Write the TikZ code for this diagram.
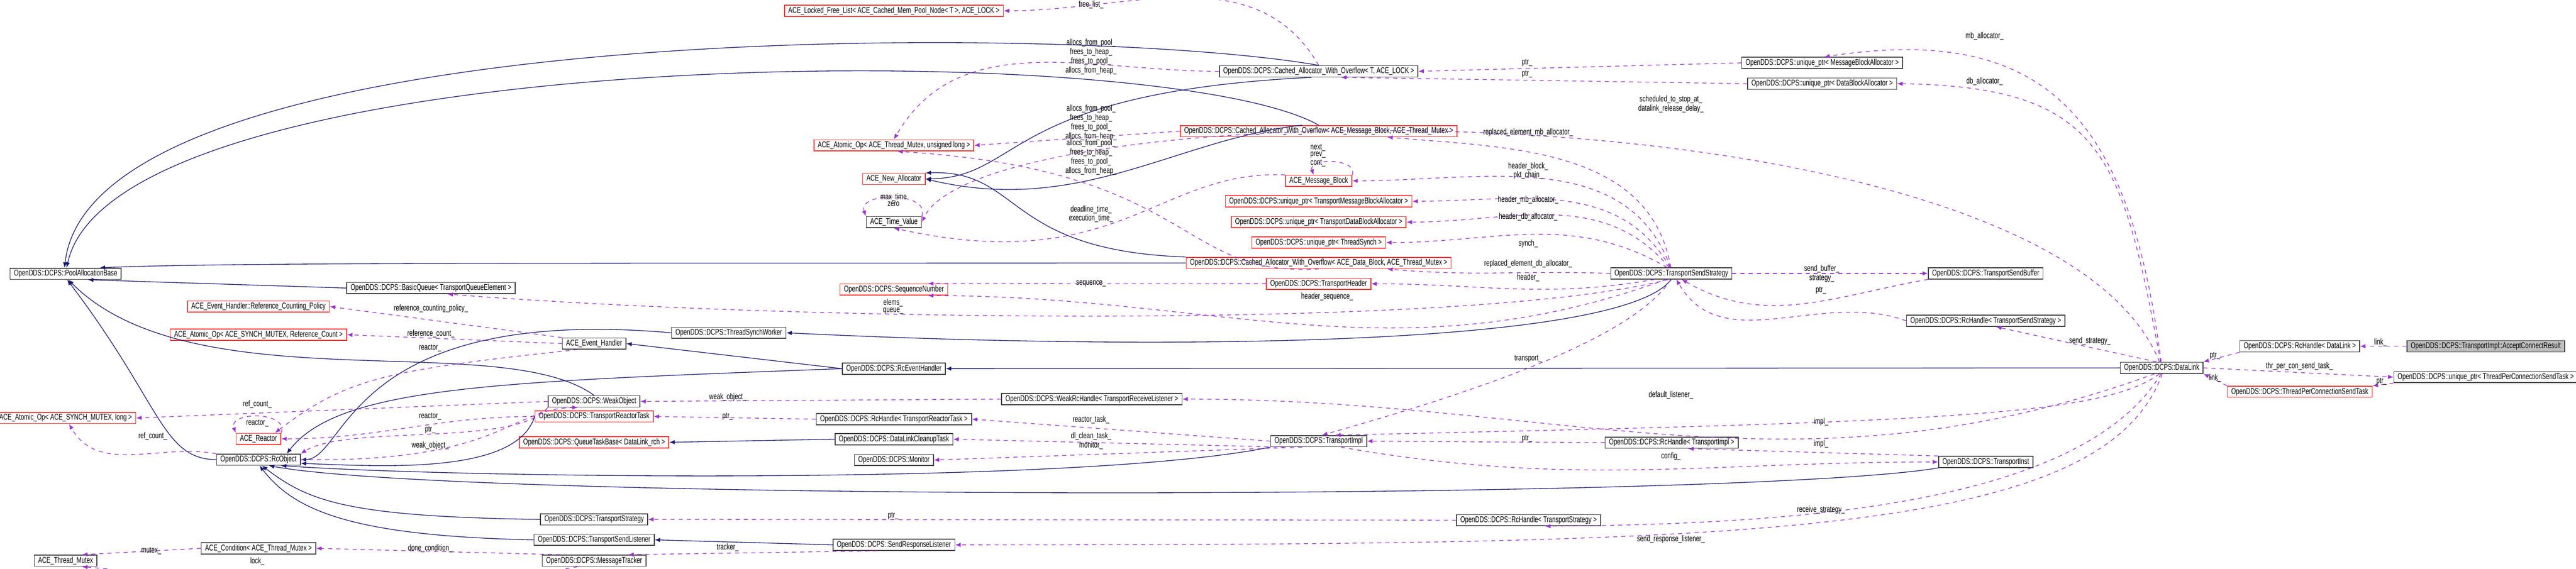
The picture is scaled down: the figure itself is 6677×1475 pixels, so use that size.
\documentclass[tikz,border=0pt]{standalone}
\usepackage{fontspec}
\setmainfont{Liberation Sans}[FakeStretch=0.72]
\usepackage{xcolor}
\usepackage{tikz}
\usetikzlibrary{
    arrows.meta,
    positioning
}
\definecolor{inhblue}{HTML}{191970}
\definecolor{usepurple}{HTML}{9A32CD}
\definecolor{boxred}{HTML}{FF3030}
\tikzset{
    cls/.style={
        rectangle, draw=black!75, line width=0.6pt, fill=white,
        minimum height=0.29cm, inner xsep=0.1cm, inner ysep=0pt,
        font=\fontsize{6.2}{7}\selectfont
    },
    blk/.style={cls},
    rednode/.style={cls, draw=boxred},
    graynode/.style={cls, fill=black!25},
    lbl/.style={font=\fontsize{6.2}{5}\selectfont, align=center, inner sep=0pt}
}

\begin{document}
\begin{tikzpicture}[
    x=0.01cm, y=-0.01cm,
    inh/.style={-{Latex[length=4pt,width=3.2pt]}, draw=inhblue, line width=0.5pt},
    use/.style={-{Latex[length=4pt,width=3.2pt]}, draw=usepurple, dashed, line width=0.5pt}
]
    \useasboundingbox (0,0) rectangle (6677,1475);

    % --- LEFT COLUMN ---
    \node[blk] (pab) at (170,710) {OpenDDS::DCPS::PoolAllocationBase};
    \node[rednode] (aol) at (170,1084) {ACE\_Atomic\_Op< ACE\_SYNCH\_MUTEX, long >};
    \node[blk] (mutex) at (170,1454) {ACE\_Thread\_Mutex};

    \node[blk] (bq) at (1117,747) {OpenDDS::DCPS::BasicQueue< TransportQueueElement >};
    \node[rednode] (rcp) at (670,795) {ACE\_Event\_Handler::Reference\_Counting\_Policy};
    \node[rednode] (aorc) at (670,868) {ACE\_Atomic\_Op< ACE\_SYNCH\_MUTEX, Reference\_Count >};
    \node[rednode] (reactor) at (670,1138) {ACE\_Reactor};
    \node[blk] (rco) at (670,1192) {OpenDDS::DCPS::RcObject};
    \node[blk] (cond) at (670,1422) {ACE\_Condition< ACE\_Thread\_Mutex >};

    \node[blk] (aeh) at (1540,891) {ACE\_Event\_Handler};
    \node[blk] (wo) at (1540,1041) {OpenDDS::DCPS::WeakObject};
    \node[rednode] (trt) at (1540,1080) {OpenDDS::DCPS::TransportReactorTask};
    \node[rednode] (qtb) at (1540,1147) {OpenDDS::DCPS::QueueTaskBase< DataLink\_rch >};
    \node[blk] (ts) at (1540,1347) {OpenDDS::DCPS::TransportStrategy};
    \node[blk] (tsl) at (1540,1400) {OpenDDS::DCPS::TransportSendListener};
    \node[blk] (mt) at (1540,1454) {OpenDDS::DCPS::MessageTracker};
    \node[blk] (tsw) at (1889,863) {OpenDDS::DCPS::ThreadSynchWorker};

    % --- MIDDLE COLUMN ---
    \node[rednode] (lfl) at (2317,28) {ACE\_Locked\_Free\_List< ACE\_Cached\_Mem\_Pool\_Node< T >, ACE\_LOCK >};
    \node[rednode] (aoul) at (2317,377) {ACE\_Atomic\_Op< ACE\_Thread\_Mutex, unsigned long >};
    \node[rednode] (nalloc) at (2317,464) {ACE\_New\_Allocator};
    \node[blk] (tv) at (2317,576) {ACE\_Time\_Value};
    \node[rednode] (sn) at (2317,751) {OpenDDS::DCPS::SequenceNumber};
    \node[blk] (reh) at (2317,956) {OpenDDS::DCPS::RcEventHandler};
    \node[blk] (rhtrt) at (2317,1087) {OpenDDS::DCPS::RcHandle< TransportReactorTask >};
    \node[blk] (dlct) at (2317,1139) {OpenDDS::DCPS::DataLinkCleanupTask};
    \node[blk] (mon) at (2317,1193) {OpenDDS::DCPS::Monitor};
    \node[blk] (srl) at (2317,1413) {OpenDDS::DCPS::SendResponseListener};
    \node[blk] (wrh) at (2830,1035) {OpenDDS::DCPS::WeakRcHandle< TransportReceiveListener >};

    \node[blk] (caT) at (3418,185) {OpenDDS::DCPS::Cached\_Allocator\_With\_Overflow< T, ACE\_LOCK >};
    \node[rednode] (caMB) at (3418,340) {OpenDDS::DCPS::Cached\_Allocator\_With\_Overflow< ACE\_Message\_Block, ACE\_Thread\_Mutex >};
    \node[rednode] (amb) at (3418,469) {ACE\_Message\_Block};
    \node[rednode] (upTMBA) at (3418,522) {OpenDDS::DCPS::unique\_ptr< TransportMessageBlockAllocator >};
    \node[rednode] (upTDBA) at (3418,576) {OpenDDS::DCPS::unique\_ptr< TransportDataBlockAllocator >};
    \node[rednode] (upTS) at (3418,629) {OpenDDS::DCPS::unique\_ptr< ThreadSynch >};
    \node[rednode] (caDB) at (3418,682) {OpenDDS::DCPS::Cached\_Allocator\_With\_Overflow< ACE\_Data\_Block, ACE\_Thread\_Mutex >};
    \node[rednode] (th) at (3418,736) {OpenDDS::DCPS::TransportHeader};
    \node[blk] (ti) at (3418,1144) {OpenDDS::DCPS::TransportImpl};
    \node[blk] (rhts) at (3962,1349) {OpenDDS::DCPS::RcHandle< TransportStrategy >};

    % --- RIGHT COLUMN ---
    \node[blk] (upMBA) at (4723,163) {OpenDDS::DCPS::unique\_ptr< MessageBlockAllocator >};
    \node[blk] (upDBA) at (4723,217) {OpenDDS::DCPS::unique\_ptr< DataBlockAllocator >};
    \node[blk] (tss) at (4332,709) {OpenDDS::DCPS::TransportSendStrategy};
    \node[blk] (rhti) at (4333,1148) {OpenDDS::DCPS::RcHandle< TransportImpl >};
    \node[blk] (tsb) at (5147,709) {OpenDDS::DCPS::TransportSendBuffer};
    \node[blk] (rhtss) at (5147,832) {OpenDDS::DCPS::RcHandle< TransportSendStrategy >};
    \node[blk] (tinst) at (5147,1198) {OpenDDS::DCPS::TransportInst};
    \node[blk] (dl) at (5603,954) {OpenDDS::DCPS::DataLink};
    \node[blk] (rhdl) at (5961,898) {OpenDDS::DCPS::RcHandle< DataLink >};
    \node[rednode] (tpc) at (5961,1016) {OpenDDS::DCPS::ThreadPerConnectionSendTask};
    \node[graynode] (acr) at (6443,898) {OpenDDS::DCPS::TransportImpl::AcceptConnectResult};
    \node[blk] (uptpc) at (6443,978) {OpenDDS::DCPS::unique\_ptr< ThreadPerConnectionSendTask >};

    % --- INHERITANCE ---
    \draw[inh] (caT.north) .. controls (2800,60) and (240,40) .. (pab.100);
    \draw[inh] (caMB.north) .. controls (3000,90) and (300,110) .. (pab.80);
    \draw[inh] (caDB.west) .. controls (1500,683) and (600,680) .. (pab.10);
    \draw[inh] (bq.west) -- (pab.-15);
    \draw[inh] (rco.west) .. controls (420,1190) and (420,1050) .. (pab.-75);
    \draw[inh] (wo.north) .. controls (1300,850) and (500,1050) .. (pab.-65);
    \draw[inh] (reh.west) -- (aeh.east);
    \draw[inh] (reh.west) .. controls (1300,990) and (880,1000) .. (rco.12);
    \draw[inh] (tsw.west) .. controls (900,790) and (900,1190) .. (rco.east);
    \draw[inh] (trt.west) .. controls (1340,1230) and (1000,1210) .. (rco.-5);
    \draw[inh] (ti.south west) .. controls (2800,1260) and (1200,1240) .. (rco.-15);
    \draw[inh] (tinst.south west) .. controls (4500,1300) and (1200,1300) .. (rco.-30);
    \draw[inh] (ts.west) .. controls (900,1340) and (800,1300) .. (rco.-60);
    \draw[inh] (tsl.west) .. controls (900,1390) and (760,1320) .. (rco.-80);
    \draw[inh] (dlct.west) -- (qtb.east);
    \draw[inh] (srl.west) -- (tsl.east);
    \draw[inh] (dl.west) -- (reh.east);
    \draw[inh] (tss.south) .. controls (4200,900) and (3000,910) .. (tsw.east);
    \draw[inh] (caT.220) .. controls (2600,240) and (2650,460) .. (nalloc.east);
    \draw[inh] (caMB.160) .. controls (3050,360) and (2800,560) .. (nalloc.east);
    \draw[inh] (caDB.north west) .. controls (2600,650) and (2650,440) .. (nalloc.north east);

    % --- MEMBERS ---
    \draw[use] (caT.north) to[out=120,in=0] (lfl.east) node[lbl, at={(2828,12)}] {free\_list\_};
    \draw[use] (caT.west) to[out=180,in=60] (aoul.north) node[lbl, at={(2828,147)}] {allocs\_from\_pool\_\\frees\_to\_heap\_\\frees\_to\_pool\_\\allocs\_from\_heap\_};
    \draw[use] (caMB.west) -- (aoul.east) node[lbl, at={(2828,318)}] {allocs\_from\_pool\_\\frees\_to\_heap\_\\frees\_to\_pool\_\\allocs\_from\_heap\_};
    \draw[use] (caDB.south) .. controls (3050,720) and (3100,440) .. (aoul.-60) node[lbl, at={(2828,408)}] {allocs\_from\_pool\_\\frees\_to\_heap\_\\frees\_to\_pool\_\\allocs\_from\_heap\_};
    \draw[use] (tv.north east) to[out=70,in=110,looseness=1.2] (tv.north west) node[lbl, at={(2316,518)}] {max\_time\\zero};
    \draw[use] (amb.north east) to[out=70,in=110,looseness=1.2] (amb.130) node[lbl, at={(3416,403)}] {next\_\\prev\_\\cont\_};
    \draw[use] (amb.north west) .. controls (3000,440) and (2900,720) .. (tv.south) node[lbl, at={(2828,555)}] {deadline\_time\_\\execution\_time\_};
    \draw[use] (upMBA.west) -- (caT.east) node[lbl, at={(3958,163)}] {ptr\_};
    \draw[use] (upDBA.west) -- (caT.-15) node[lbl, at={(3958,192)}] {ptr\_};
    \draw[use] (dl.95) .. controls (5520,300) and (5300,60) .. (upMBA.70) node[lbl, at={(5144,94)}] {mb\_allocator\_};
    \draw[use] (dl.100) .. controls (5500,400) and (5450,225) .. (upDBA.east) node[lbl, at={(5144,211)}] {db\_allocator\_};
    \draw[use] (dl.110) .. controls (5300,200) and (2550,230) .. (tv.east) node[lbl, at={(4331,270)}] {scheduled\_to\_stop\_at\_\\datalink\_release\_delay\_};

    \draw[use] (tss.95) to[out=100,in=-5] (caMB.-5) node[lbl, at={(3961,343)}] {replaced\_element\_mb\_allocator\_};
    \draw[use] (tss.98) to[out=110,in=0] (amb.east) node[lbl, at={(3961,443)}] {header\_block\_\\pkt\_chain\_};
    \draw[use] (tss.102) to[out=120,in=0] (upTMBA.east) node[lbl, at={(3961,518)}] {header\_mb\_allocator\_};
    \draw[use] (tss.110) to[out=130,in=0] (upTDBA.east) node[lbl, at={(3961,562)}] {header\_db\_allocator\_};
    \draw[use] (tss.125) to[out=150,in=0] (upTS.east) node[lbl, at={(3961,632)}] {synch\_};
    \draw[use] (tss.west) to[out=178,in=-5] (caDB.-5) node[lbl, at={(3961,684)}] {replaced\_element\_db\_allocator\_};
    \draw[use] (tss.200) to[out=190,in=0] (th.east) node[lbl, at={(3961,720)}] {header\_};
    \draw[use] (tss.230) to[out=200,in=0] (sn.-10) node[lbl, at={(3440,770)}] {header\_sequence\_};
    \draw[use] (th.west) -- (sn.10) node[lbl, at={(2828,735)}] {sequence\_};
    \draw[use] (tss.245) .. controls (3800,860) and (2000,830) .. (bq.-20) node[lbl, at={(2315,795)}] {elems\_\\queue\_};
    \draw[use] (tss.265) .. controls (4220,900) and (3700,1050) .. (ti.60) node[lbl, at={(3961,930)}] {transport\_};
    \draw[use] (tss.east) -- (tsb.west) node[lbl, at={(4722,698)}] {send\_buffer\_};
    \draw[use] (tsb.south west) to[out=190,in=-30] (tss.-30) node[lbl, at={(4722,722)}] {strategy\_};
    \draw[use] (rhtss.west) to[out=160,in=-60] (tss.-50) node[lbl, at={(4720,753)}] {ptr\_};
    \draw[use] (dl.130) -- (rhtss.-30) node[lbl, at={(5417,884)}] {send\_strategy\_};

    \draw[use] (dl.220) to[out=200,in=0] (wrh.east) node[lbl, at={(4331,1025)}] {default\_listener\_};
    \draw[use] (dl.250) .. controls (5450,1080) and (5000,1095) .. (ti.20) node[lbl, at={(4720,1094)}] {impl\_};
    \draw[use] (rhti.west) -- (ti.east) node[lbl, at={(3958,1138)}] {ptr\_};
    \draw[use] (tinst.north west) -- (rhti.-20) node[lbl, at={(4720,1151)}] {impl\_};
    \draw[use] (ti.-15) to[out=-10,in=180] (tinst.west) node[lbl, at={(4331,1183)}] {config\_};
    \draw[use] (ti.west) -- (rhtrt.east) node[lbl, at={(2828,1088)}] {reactor\_task\_};
    \draw[use] (ti.190) -- (dlct.east) node[lbl, at={(2828,1132)}] {dl\_clean\_task\_};
    \draw[use] (ti.200) -- (mon.east) node[lbl, at={(2828,1156)}] {monitor\_};
    \draw[use] (dl.265) .. controls (5400,1300) and (4700,1360) .. (rhts.-20) node[lbl, at={(4720,1322)}] {receive\_strategy\_};
    \draw[use] (rhts.west) -- (ts.east) node[lbl, at={(2315,1338)}] {ptr\_};
    \draw[use] (dl.275) .. controls (5450,1400) and (4500,1412) .. (srl.east) node[lbl, at={(4331,1398)}] {send\_response\_listener\_};
    \draw[use] (srl.200) -- (mt.10) node[lbl, at={(1886,1420)}] {tracker\_};
    \draw[use] (mt.170) -- (cond.east) node[lbl, at={(1115,1422)}] {done\_condition\_};
    \draw[use] (mt.200) to[out=190,in=-5] (mutex.-20) node[lbl, at={(667,1456)}] {lock\_};
    \draw[use] (cond.west) -- (mutex.20) node[lbl, at={(392,1428)}] {mutex\_};

    \draw[use] (aeh.north west) -- (rcp.east) node[lbl, at={(1117,800)}] {reference\_counting\_policy\_};
    \draw[use] (aeh.west) -- (aorc.east) node[lbl, at={(1117,866)}] {reference\_count\_};
    \draw[use] (aeh.200) .. controls (1000,960) and (900,980) .. (reactor.20) node[lbl, at={(1115,903)}] {reactor\_};
    \draw[use] (reactor.north east) to[out=70,in=110,looseness=1.3] (reactor.north west) node[lbl, at={(667,1098)}] {reactor\_};
    \draw[use] (wo.west) -- (aol.east) node[lbl, at={(667,1048)}] {ref\_count\_};
    \draw[use] (rco.north west) to[out=170,in=-60] (aol.-60) node[lbl, at={(396,1132)}] {ref\_count\_};
    \draw[use] (trt.west) to[out=180,in=0] (reactor.east) node[lbl, at={(1115,1080)}] {reactor\_};
    \draw[use] (rhtrt.west) -- (trt.east) node[lbl, at={(1886,1080)}] {ptr\_};
    \draw[use] (wo.south west) .. controls (1340,1160) and (900,1100) .. (rco.north east) node[lbl, at={(1115,1115)}] {ptr\_};
    \draw[use] (rco.east) .. controls (1300,1200) and (1320,1060) .. (wo.200) node[lbl, at={(1115,1156)}] {weak\_object\_};
    \draw[use] (wrh.west) -- (wo.east) node[lbl, at={(1886,1030)}] {weak\_object\_};

    % --- DATALINK NEIGHBOURS ---
    \draw[use] (acr.west) -- (rhdl.east) node[lbl, at={(6170,888)}] {link\_};
    \draw[use] (rhdl.south west) -- (dl.north east) node[lbl, at={(5741,923)}] {ptr\_};
    \draw[use] (dl.east) -- (uptpc.west) node[lbl, at={(5960,950)}] {thr\_per\_con\_send\_task\_};
    \draw[use] (uptpc.south west) -- (tpc.north east) node[lbl, at={(6173,990)}] {ptr\_};
    \draw[use] (tpc.north west) -- (dl.south east) node[lbl, at={(5741,980)}] {link\_};

\end{tikzpicture}
\end{document}
